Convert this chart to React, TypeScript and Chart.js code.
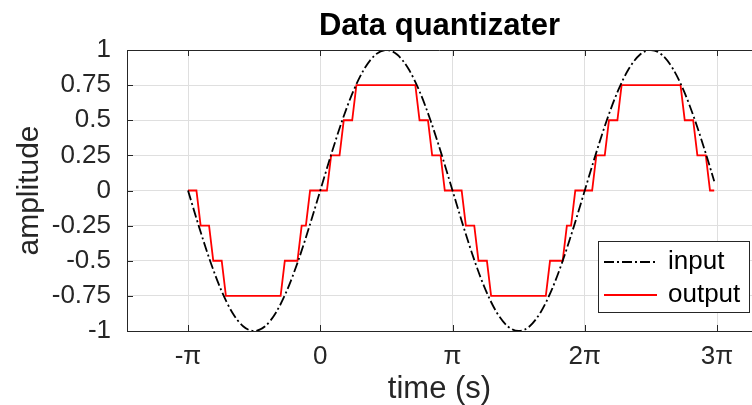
import React, { useEffect, useRef } from 'react';
import { Chart, registerables } from 'chart.js';

Chart.register(...registerables);

const TITLE = 'Data quantizater';
const X_LABEL = 'time (s)';
const Y_LABEL = 'amplitude';
const SERIES_NAMES = ['input', 'output'];

// input: sampled sine wave (time in rad)
const INPUT_T = [
  -3.1416, -2.8798, -2.618, -2.3562, -2.0944, -1.8326, -1.5708, -1.309, -1.0472, -0.7854, -0.5236, -0.2618,
  0, 0.2618, 0.5236, 0.7854, 1.0472, 1.309, 1.5708, 1.8326, 2.0944, 2.3562, 2.618, 2.8798,
  3.1416, 3.4034, 3.6652, 3.927, 4.1888, 4.4506, 4.7124, 4.9742, 5.236, 5.4978, 5.7596, 6.0214,
  6.2832, 6.545, 6.8068, 7.0686, 7.3304, 7.5922, 7.854, 8.1158, 8.3776, 8.6394, 8.9012, 9.163, 9.3584,
];
const INPUT_Y = [
  0, -0.2588, -0.5, -0.7071, -0.866, -0.9659, -1, -0.9659, -0.866, -0.7071, -0.5, -0.2588,
  0, 0.2588, 0.5, 0.7071, 0.866, 0.9659, 1, 0.9659, 0.866, 0.7071, 0.5, 0.2588,
  0, -0.2588, -0.5, -0.7071, -0.866, -0.9659, -1, -0.9659, -0.866, -0.7071, -0.5, -0.2588,
  0, 0.2588, 0.5, 0.7071, 0.866, 0.9659, 1, 0.9659, 0.866, 0.7071, 0.5, 0.2588, 0.0664,
];

// output: quantized signal (corner points of the staircase)
const OUTPUT_T = [
  -3.1416, -2.9416, -2.8416, -2.6416, -2.5416, -2.3416, -2.2416, -0.9416, -0.8416, -0.5416, -0.4416, -0.3416,
  -0.2416, 0.1584, 0.2584, 0.4584, 0.5584, 0.7584, 0.8584, 2.2584, 2.3584, 2.5584, 2.6584, 2.8584,
  2.9584, 3.3584, 3.4584, 3.6584, 3.7584, 3.9584, 4.0584, 5.3584, 5.4584, 5.7584, 5.8584, 5.9584,
  6.0584, 6.4584, 6.5584, 6.7584, 6.8584, 7.0584, 7.1584, 8.5584, 8.6584, 8.8584, 8.9584, 9.1584,
  9.2584, 9.3584,
];
const OUTPUT_Y = [
  0, 0, -0.25, -0.25, -0.5, -0.5, -0.75, -0.75, -0.5, -0.5, -0.25, -0.25,
  0, 0, 0.25, 0.25, 0.5, 0.5, 0.75, 0.75, 0.5, 0.5, 0.25, 0.25,
  0, 0, -0.25, -0.25, -0.5, -0.5, -0.75, -0.75, -0.5, -0.5, -0.25, -0.25,
  0, 0, 0.25, 0.25, 0.5, 0.5, 0.75, 0.75, 0.5, 0.5, 0.25, 0.25,
  0, 0,
];

const X_TICKS = [-3.1416, 0, 3.1416, 6.2832, 9.4248];
const X_TICK_LABELS = ['-π', '0', 'π', '2π', '3π'];
const Y_TICKS = [-1, -0.75, -0.5, -0.25, 0, 0.25, 0.5, 0.75, 1];
const Y_TICK_LABELS = ['-1', '-0.75', '-0.5', '-0.25', '0', '0.25', '0.5', '0.75', '1'];
const X_MIN = -4.591;
const X_MAX = 10.256;
const Y_MIN = -1;
const Y_MAX = 1;

const FONT = "'Liberation Sans', Arial, Helvetica, sans-serif";
const AXIS_COLOR = '#262626';
const GRID_COLOR = '#dfdfdf';
const INPUT_COLOR = '#000000';
const OUTPUT_COLOR = '#ff0000';
const DASH_DOT = [10, 3, 2, 3];

export default function App() {
  const ref = useRef<HTMLCanvasElement>(null);

  useEffect(() => {
    const canvas = ref.current;
    if (!canvas) return;

    const decor = {
      id: 'decor',
      afterDraw(chart: any) {
        const { ctx, chartArea: ca, scales } = chart;
        const xs = scales.x;
        const ys = scales.y;
        ctx.save();
        ctx.strokeStyle = AXIS_COLOR;
        ctx.lineWidth = 1;
        ctx.setLineDash([]);
        // top border
        ctx.beginPath();
        ctx.moveTo(ca.left, Math.round(ca.top) + 0.5);
        ctx.lineTo(ca.right, Math.round(ca.top) + 0.5);
        ctx.stroke();
        // inner tick marks
        const tl = 6;
        ctx.beginPath();
        X_TICKS.forEach((v) => {
          const px = Math.round(xs.getPixelForValue(v)) + 0.5;
          ctx.moveTo(px, ca.bottom);
          ctx.lineTo(px, ca.bottom - tl);
          ctx.moveTo(px, ca.top);
          ctx.lineTo(px, ca.top + tl);
        });
        Y_TICKS.forEach((v) => {
          const py = Math.round(ys.getPixelForValue(v)) + 0.5;
          ctx.moveTo(ca.left, py);
          ctx.lineTo(ca.left + tl, py);
        });
        ctx.stroke();

        // title
        ctx.fillStyle = '#000';
        ctx.font = `bold 31px ${FONT}`;
        ctx.textAlign = 'center';
        ctx.textBaseline = 'middle';
        ctx.fillText(TITLE, (ca.left + ca.right) / 2, 26);

        // legend
        const lx = 598.5, ly = 241.5, lw = 151, lh = 71;
        ctx.fillStyle = '#fff';
        ctx.fillRect(lx, ly, lw, lh);
        ctx.strokeStyle = AXIS_COLOR;
        ctx.lineWidth = 1;
        ctx.strokeRect(lx, ly, lw, lh);
        const rows = [
          { name: SERIES_NAMES[0], color: INPUT_COLOR, dash: DASH_DOT, y: 262 },
          { name: SERIES_NAMES[1], color: OUTPUT_COLOR, dash: [], y: 295 },
        ];
        rows.forEach((r) => {
          ctx.strokeStyle = r.color;
          ctx.lineWidth = 1.8;
          ctx.setLineDash(r.dash);
          ctx.beginPath();
          ctx.moveTo(604, r.y);
          ctx.lineTo(657, r.y);
          ctx.stroke();
          ctx.setLineDash([]);
          ctx.fillStyle = '#000';
          ctx.font = `26px ${FONT}`;
          ctx.textAlign = 'left';
          ctx.textBaseline = 'middle';
          ctx.fillText(r.name, 668, r.y);
        });
        ctx.restore();
      },
    };

    const chart = new Chart(canvas, {
      type: 'line',
      data: {
        datasets: [
          {
            label: SERIES_NAMES[0],
            data: INPUT_T.map((t, i) => ({ x: t, y: INPUT_Y[i] })),
            borderColor: INPUT_COLOR,
            borderWidth: 1.8,
            borderDash: DASH_DOT,
            pointRadius: 0,
            cubicInterpolationMode: 'monotone',
            fill: false,
          },
          {
            label: SERIES_NAMES[1],
            data: OUTPUT_T.map((t, i) => ({ x: t, y: OUTPUT_Y[i] })),
            borderColor: OUTPUT_COLOR,
            borderWidth: 1.8,
            pointRadius: 0,
            tension: 0,
            fill: false,
          },
        ],
      },
      plugins: [decor],
      options: {
        responsive: false,
        animation: false,
        devicePixelRatio: 1,
        layout: { padding: { top: 50, left: 0, right: 0, bottom: 0 } },
        plugins: {
          legend: { display: false },
          title: { display: false },
          tooltip: { enabled: false },
        },
        scales: {
          x: {
            type: 'linear',
            min: X_MIN,
            max: X_MAX,
            afterBuildTicks: (scale: any) => {
              scale.ticks = X_TICKS.map((v) => ({ value: v }));
            },
            afterFit: (scale: any) => {
              scale.height = 74;
            },
            ticks: {
              autoSkip: false,
              maxRotation: 0,
              minRotation: 0,
              padding: 10,
              color: AXIS_COLOR,
              font: { family: FONT, size: 26 },
              callback: (value: any) => {
                const i = X_TICKS.findIndex((v) => Math.abs(v - Number(value)) < 1e-3);
                return i >= 0 ? X_TICK_LABELS[i] : '';
              },
            },
            grid: { color: GRID_COLOR, drawTicks: false, lineWidth: 1 },
            border: { display: true, color: AXIS_COLOR, width: 1 },
            title: {
              display: true,
              text: X_LABEL,
              color: AXIS_COLOR,
              font: { family: FONT, size: 31 },
              padding: { top: 0, bottom: -3 },
            },
          },
          y: {
            type: 'linear',
            min: Y_MIN,
            max: Y_MAX,
            afterBuildTicks: (scale: any) => {
              scale.ticks = Y_TICKS.map((v) => ({ value: v }));
            },
            afterFit: (scale: any) => {
              scale.width = 127;
            },
            ticks: {
              autoSkip: false,
              padding: 16,
              color: AXIS_COLOR,
              font: { family: FONT, size: 26 },
              callback: (value: any) => {
                const i = Y_TICKS.findIndex((v) => Math.abs(v - Number(value)) < 1e-6);
                return i >= 0 ? Y_TICK_LABELS[i] : '';
              },
            },
            grid: { color: GRID_COLOR, drawTicks: false, lineWidth: 1 },
            border: { display: true, color: AXIS_COLOR, width: 1 },
            title: {
              display: true,
              text: Y_LABEL,
              color: AXIS_COLOR,
              font: { family: FONT, size: 30 },
              padding: { top: 12, bottom: 0 },
            },
          },
        },
      },
    } as any);

    return () => chart.destroy();
  }, []);

  return (
    <div style={{ position: 'fixed', left: 0, top: 0, width: 752, height: 405, background: '#fff', overflow: 'hidden' }}>
      <canvas ref={ref} width={752} height={405} style={{ display: 'block', width: 752, height: 405 }} />
    </div>
  );
}
